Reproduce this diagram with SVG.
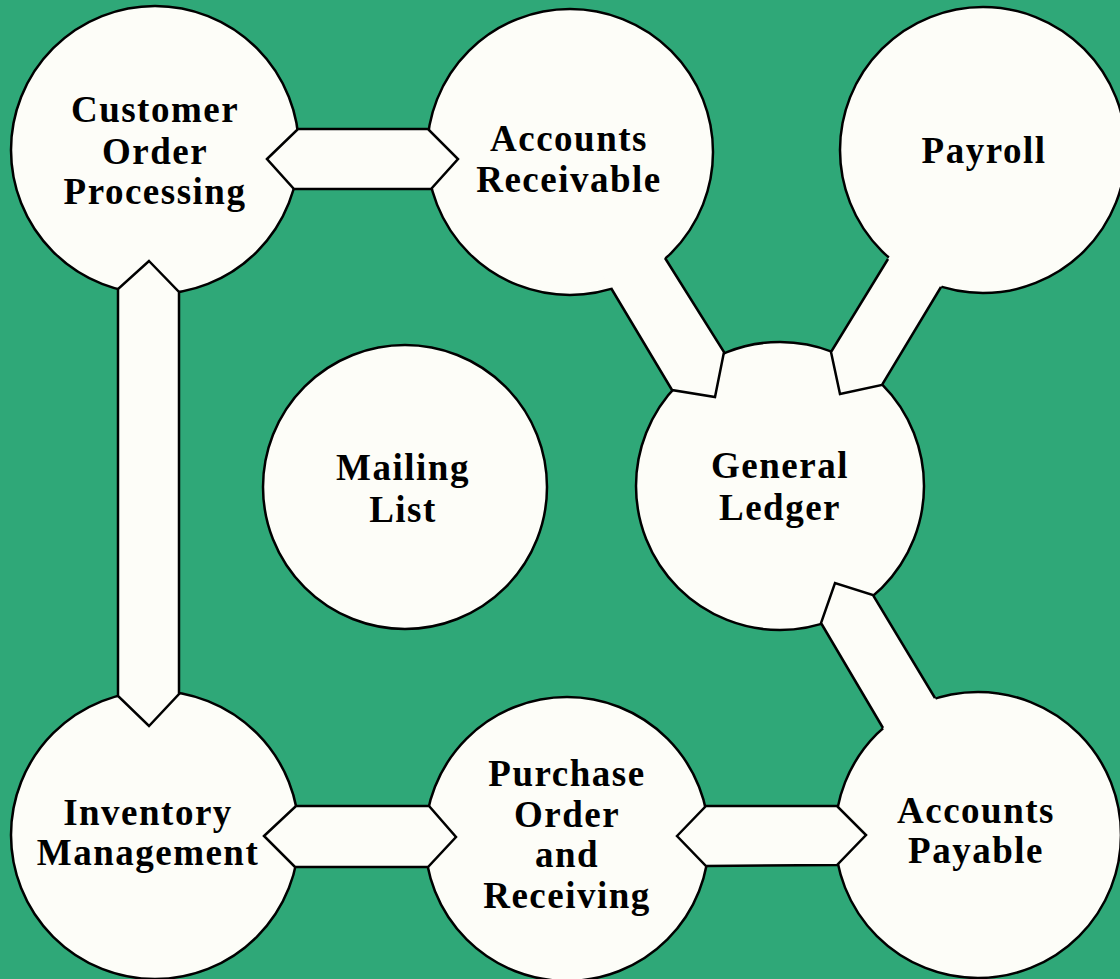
<svg xmlns="http://www.w3.org/2000/svg" width="1120" height="979" viewBox="0 0 1120 979">
<style>
.bg{fill:#2fa878}
.node circle{fill:#fdfdf8;stroke:#000;stroke-width:2.5}
.node text{font-family:"Liberation Serif","Times New Roman",serif;font-weight:bold;font-size:37px;letter-spacing:1.5px;fill:#000;text-anchor:middle}
.band{fill:#fdfdf8;stroke:none}
.edge{fill:none;stroke:#000;stroke-width:2.5;stroke-linejoin:miter}
.dbl{fill:#fdfdf8;stroke:#000;stroke-width:2.5;stroke-linejoin:miter}
</style>
<rect class="bg" x="0" y="0" width="1120" height="979"/>
<g id="nodes">
<g id="customer-order-processing" class="node">
<circle cx="155" cy="150" r="144"/>
<text x="155" y="122">Customer</text>
<text x="155" y="164">Order</text>
<text x="155" y="204">Processing</text>
</g>
<g id="accounts-receivable" class="node">
<circle cx="570" cy="152" r="143"/>
<text x="569" y="151">Accounts</text>
<text x="569" y="192">Receivable</text>
</g>
<g id="payroll" class="node">
<circle cx="983" cy="150" r="143"/>
<text x="984" y="163">Payroll</text>
</g>
<g id="mailing-list" class="node">
<circle cx="405" cy="487" r="142"/>
<text x="403" y="480">Mailing</text>
<text x="403" y="522">List</text>
</g>
<g id="general-ledger" class="node">
<circle cx="780" cy="486" r="144"/>
<text x="780" y="478">General</text>
<text x="780" y="520">Ledger</text>
</g>
<g id="inventory-management" class="node">
<circle cx="155" cy="835" r="144"/>
<text x="148" y="825">Inventory</text>
<text x="148" y="865">Management</text>
</g>
<g id="purchase-order-receiving" class="node">
<circle cx="567" cy="839" r="142"/>
<text x="567" y="786">Purchase</text>
<text x="567" y="827">Order</text>
<text x="567" y="867">and</text>
<text x="567" y="908">Receiving</text>
</g>
<g id="accounts-payable" class="node">
<circle cx="978" cy="835" r="143"/>
<text x="976" y="823">Accounts</text>
<text x="976" y="863">Payable</text>
</g>
</g>
<g id="connectors">
<path id="cop-ar" class="dbl" d="M267,159 L298,129 L428,129 L458,159 L431,189 L294,189 Z"/>
<path id="cop-im" class="dbl" d="M149,261 L179,292 L179,694 L149,726 L118,696 L118,289 Z"/>
<path id="im-po" class="dbl" d="M264,836 L296,806 L429,806 L456,837 L428,867 L295,867 Z"/>
<path id="po-ap" class="dbl" d="M677,836 L706,806 L837,806 L866,835 L837,865 L706,866 Z"/>
<g id="ar-gl">
<path class="band" d="M603,276 L611,288 L672,390 L715,397 L724,352 L665,258 L657,245 Z"/>
<path class="edge" d="M611,288 L672,390 L715,397 L724,352 L665,258"/>
</g>
<g id="payroll-gl">
<path class="band" d="M896,246 L888,259 L831,352 L840,394 L882,385 L941,287 L949,274 Z"/>
<path class="edge" d="M888,259 L831,352 L840,394 L882,385 L941,287"/>
</g>
<g id="ap-gl">
<path class="band" d="M890,740 L883,728 L821,623 L835,583 L873,595 L935,698 L942,710 Z"/>
<path class="edge" d="M883,728 L821,623 L835,583 L873,595 L935,698"/>
</g>
</g>
</svg>
